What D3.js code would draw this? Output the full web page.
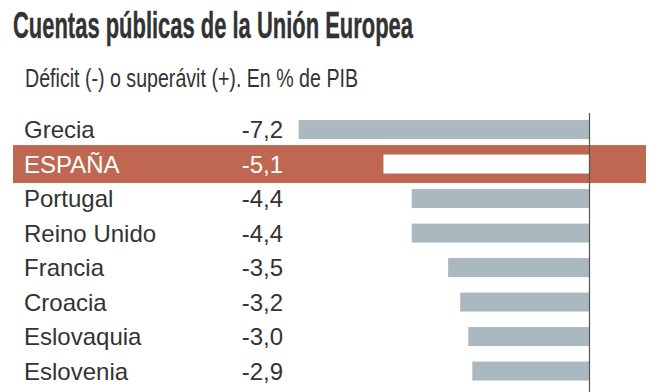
<!DOCTYPE html>
<html><head><meta charset="utf-8">
<script src="https://cdn.jsdelivr.net/npm/d3@7"></script>
<style>
html,body{margin:0;padding:0;background:#fff;}
svg{display:block;}
</style></head>
<body>
<script>
const countries = ["Grecia","ESPAÑA","Portugal","Reino Unido","Francia","Croacia","Eslovaquia","Eslovenia"];
const values = [-7.2,-5.1,-4.4,-4.4,-3.5,-3.2,-3.0,-2.9];
const highlight = "ESPAÑA";
const title = "Cuentas públicas de la Unión Europea";
const subtitle = "Déficit (-) o superávit (+). En % de PIB";

const W = 664, H = 392;
const svg = d3.select("body").append("svg").attr("width", W).attr("height", H);

const locale = d3.formatLocale({decimal: ",", thousands: ".", grouping: [3], currency: ["", "€"], minus: "-"});
const fmt = locale.format(".1f");

const x = d3.scaleLinear().domain([-8, 0]).range([266.3, 589.5]);
const y = d3.scaleBand().domain(countries).range([112.3, 388.3]).paddingInner(0.45).paddingOuter(0.225);

// title
svg.append("text").attr("x", 13).attr("y", 37.5)
  .attr("font-family", "'Liberation Sans Narrow','Arial Narrow','Liberation Sans',sans-serif")
  .attr("font-weight", "bold").attr("font-size", 36).attr("fill", "#333")
  .attr("stroke", "#333").attr("stroke-width", 0.4)
  .attr("textLength", 400).attr("lengthAdjust", "spacingAndGlyphs")
  .text(title);

svg.append("text").attr("x", 25).attr("y", 87)
  .attr("font-family", "'Liberation Sans',Arial,sans-serif")
  .attr("font-size", 25).attr("fill", "#333")
  .attr("textLength", 333).attr("lengthAdjust", "spacingAndGlyphs")
  .text(subtitle);

const data = countries.map((c, i) => ({c, v: values[i]}));

// highlight band
data.filter(d => d.c === highlight).forEach(d => {
  const cy = y(d.c) + y.bandwidth() / 2;
  svg.append("rect").attr("x", 13).attr("width", 646 - 13)
    .attr("y", cy - 19).attr("height", 38).attr("fill", "#bf6750");
});

// bars
svg.append("g").selectAll("rect").data(data).join("rect")
  .attr("x", d => x(d.v))
  .attr("width", d => x(0) - x(d.v))
  .attr("y", d => y(d.c))
  .attr("height", y.bandwidth())
  .attr("fill", d => d.c === highlight ? "#ffffff" : "#aab8bf");

// labels
const lab = svg.append("g").attr("font-family", "'Liberation Sans',Arial,sans-serif").attr("font-size", 24);
lab.selectAll("text.name").data(data).join("text").attr("class", "name")
  .attr("x", 24)
  .attr("y", d => y(d.c) + y.bandwidth() / 2 + 8.6)
  .attr("fill", d => d.c === highlight ? "#fff" : "#333")
  .text(d => d.c);
lab.selectAll("text.val").data(data).join("text").attr("class", "val")
  .attr("x", 283).attr("text-anchor", "end")
  .attr("y", d => y(d.c) + y.bandwidth() / 2 + 8.6)
  .attr("fill", d => d.c === highlight ? "#fff" : "#333")
  .text(d => fmt(d.v).replace("\u2212", "-"));

// zero line
svg.append("line").attr("x1", x(0)).attr("x2", x(0)).attr("y1", 113).attr("y2", H)
  .attr("stroke", "#555").attr("stroke-width", 1.2);
</script>
</body></html>
